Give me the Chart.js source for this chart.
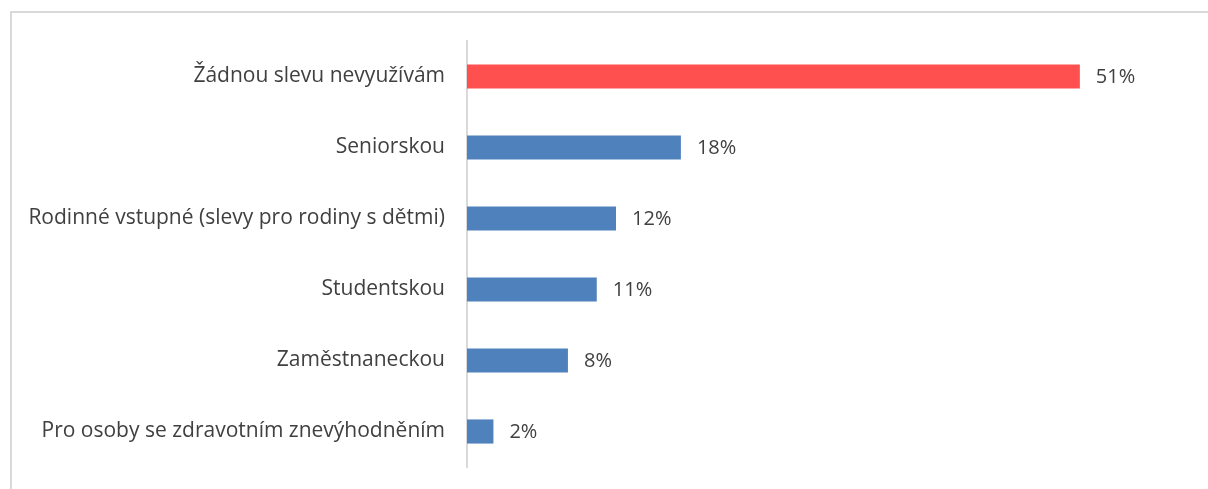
<!DOCTYPE html>
<html>
<head>
<meta charset="utf-8">
<script src="https://cdn.jsdelivr.net/npm/chart.js@4"></script>
<style>
  html, body { margin: 0; padding: 0; background: #fff; overflow: hidden; }
  #wrap { position: relative; width: 1208px; height: 489px; }
  #frame { position: absolute; left: 10px; top: 11px; right: 0; bottom: 0;
           border-left: 2px solid #d9d9d9; border-top: 2px solid #d9d9d9; }
  #box { position: absolute; left: 0; top: 0; width: 1208px; height: 489px; }
</style>
</head>
<body>
<div id="wrap">
  <div id="frame"></div>
  <div id="box"><canvas id="barChart"></canvas></div>
</div>
<script>
var categories = [
  "Žádnou slevu nevyužívám",
  "Seniorskou",
  "Rodinné vstupné (slevy pro rodiny s dětmi)",
  "Studentskou",
  "Zaměstnaneckou",
  "Pro osoby se zdravotním znevýhodněním"
];
var values = [51, 17.8, 12.4, 10.8, 8.4, 2.2];
var barColors = ["#ff5050", "#4f81bd", "#4f81bd", "#4f81bd", "#4f81bd", "#4f81bd"];

// draws the "51%" style labels right of each bar
var valueLabels = {
  id: "valueLabels",
  afterDatasetsDraw: function (chart) {
    var ctx = chart.ctx;
    var meta = chart.getDatasetMeta(0);
    ctx.save();
    ctx.font = "20px 'Open Sans'";
    ctx.fillStyle = "#404040";
    ctx.textBaseline = "middle";
    meta.data.forEach(function (bar, i) {
      ctx.fillText(Math.round(values[i]) + "%", bar.x + 16, bar.y + 1);
    });
    ctx.restore();
  }
};

new Chart("barChart", {
  type: "bar",
  data: {
    labels: categories,
    datasets: [
      {
        data: values,
        backgroundColor: barColors,
        barPercentage: 0.34,
        categoryPercentage: 1
      }
    ]
  },
  plugins: [valueLabels],
  options: {
    indexAxis: "y",
    responsive: true,
    maintainAspectRatio: false,
    animation: false,
    layout: { padding: { top: 41, bottom: 22, right: 20, left: 0 } },
    plugins: { legend: { display: false }, tooltip: { enabled: false } },
    scales: {
      x: { display: false, min: 0, max: 60 },
      y: {
        afterFit: function (scale) { scale.width = 467; },
        // invisible ticks give the gap between labels and axis line
        grid: { display: true, drawOnChartArea: false, drawTicks: true, tickLength: 22, tickColor: "rgba(0,0,0,0)" },
        border: { color: "#d9d9d9", width: 2 },
        ticks: {
          padding: 0,
          color: "#404040",
          font: { family: "'Open Sans'", size: 21 }
        }
      }
    }
  }
});
</script>
</body>
</html>
